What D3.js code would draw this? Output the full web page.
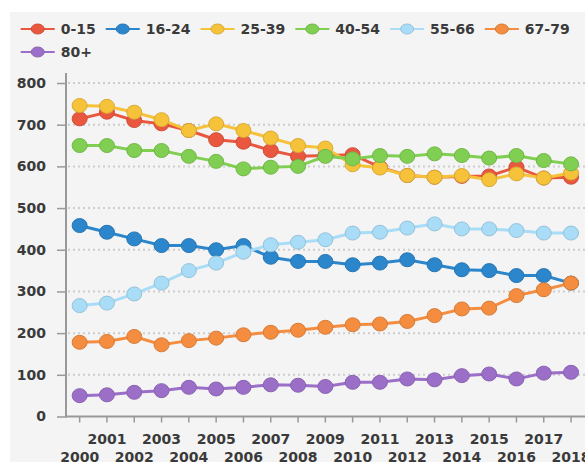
<!DOCTYPE html>
<html>
<head>
<meta charset="utf-8">
<script src="https://cdn.jsdelivr.net/npm/d3@7"></script>
<style>
  body { margin: 0; background: #fff; }
  text { font-family: "DejaVu Sans", Verdana, sans-serif; font-weight: bold; fill: #3a3a3a; }
</style>
</head>
<body>
<svg width="585" height="462"></svg>
<script>
var years = ["2000","2001","2002","2003","2004","2005","2006","2007","2008","2009",
             "2010","2011","2012","2013","2014","2015","2016","2017","2018"];

var groups = ["0-15", "16-24", "25-39", "40-54", "55-66", "67-79", "80+"];
var colors = ["#e9573f", "#2b86cc", "#f5c23a", "#80cf52", "#a9dcf6", "#f48d3f", "#9b6fc8"];

var age0_15  = [714, 730, 710, 702, 686, 664, 658, 638, 624, 626, 628, 598, 578, 574, 576, 577, 598, 572, 574];
var age16_24 = [458, 442, 426, 410, 410, 400, 410, 382, 372, 372, 364, 368, 376, 364, 352, 350, 338, 338, 320];
var age25_39 = [746, 744, 730, 712, 686, 702, 686, 668, 650, 644, 604, 596, 578, 574, 578, 568, 582, 572, 584];
var age40_54 = [650, 650, 638, 638, 624, 612, 594, 598, 600, 624, 618, 626, 624, 630, 626, 620, 626, 614, 606];
var age55_66 = [266, 272, 294, 320, 350, 368, 394, 412, 418, 424, 440, 442, 452, 462, 450, 450, 446, 440, 440];
var age67_79 = [178, 180, 192, 172, 182, 188, 196, 202, 207, 214, 220, 222, 228, 242, 258, 260, 290, 304, 320];
var age80    = [50, 52, 58, 62, 70, 66, 70, 76, 75, 72, 82, 82, 90, 88, 98, 102, 90, 104, 106];

var yTicks = [0, 100, 200, 300, 400, 500, 600, 700, 800];

var series = [age0_15, age16_24, age25_39, age40_54, age55_66, age67_79, age80]
  .map((vals, i) => ({ name: groups[i], color: colors[i], values: vals }));

var svg = d3.select("svg");

// grey panel
svg.append("rect")
    .attr("x", 10).attr("y", 12)
    .attr("width", 575).attr("height", 450)
    .attr("fill", "#f4f4f4");

var plotLeft = 66, plotRight = 585, plotTop = 83, plotBottom = 416.5;

var x = d3.scaleBand().domain(years).range([plotLeft, plotLeft + 19 * 27.3]);
var y = d3.scaleLinear().domain([0, 800]).range([plotBottom, plotTop]);
var cx = d => x(d) + x.bandwidth() / 2;

// dotted gridlines
svg.append("g")
  .selectAll("line")
  .data(yTicks.filter(d => d > 0))
  .enter().append("line")
    .attr("x1", plotLeft + 2).attr("x2", plotRight)
    .attr("y1", d => y(d)).attr("y2", d => y(d))
    .attr("stroke", "#cdcdcd")
    .attr("stroke-width", 2)
    .attr("stroke-dasharray", "2,3");

// y axis
var yAxis = svg.append("g")
    .attr("transform", "translate(" + plotLeft + ",0)")
    .call(d3.axisLeft(y).tickValues(yTicks).tickSize(9).tickPadding(11));
yAxis.select(".domain").remove();
yAxis.selectAll(".tick line").attr("stroke", "#999").attr("stroke-width", 1.5);
yAxis.selectAll(".tick text")
    .style("font-size", "14px")
    .style("font-family", "'DejaVu Sans', Verdana, sans-serif")
    .attr("fill", "#3a3a3a");
svg.append("line")
    .attr("x1", plotLeft).attr("x2", plotLeft)
    .attr("y1", 73).attr("y2", plotBottom + 1)
    .attr("stroke", "#999").attr("stroke-width", 2);

// x axis, labels staggered on two rows
var xAxis = svg.append("g")
    .attr("transform", "translate(0," + plotBottom + ")")
    .call(d3.axisBottom(x).tickSize(6).tickPadding(0));
xAxis.select(".domain").remove();
xAxis.selectAll(".tick line").attr("stroke", "#999").attr("stroke-width", 1.5);
xAxis.selectAll(".tick text")
    .style("font-size", "14px")
    .style("font-family", "'DejaVu Sans', Verdana, sans-serif")
    .attr("fill", "#3a3a3a")
    .attr("dy", null)
    .attr("y", (d, i) => i % 2 ? 22 : 40)
    .attr("dominant-baseline", "central");
svg.append("line")
    .attr("x1", plotLeft).attr("x2", plotRight)
    .attr("y1", plotBottom).attr("y2", plotBottom)
    .attr("stroke", "#999").attr("stroke-width", 2);

// lines + points
var line = d3.line()
    .x((d, i) => cx(years[i]))
    .y(d => y(d));

var serie = svg.selectAll(".serie")
  .data(series)
  .enter().append("g")
    .attr("class", "serie");

serie.append("path")
    .attr("d", d => line(d.values))
    .attr("fill", "none")
    .attr("stroke", d => d.color)
    .attr("stroke-width", 3);

serie.each(function(s) {
  d3.select(this).selectAll("ellipse")
    .data(s.values)
    .enter().append("ellipse")
      .attr("cx", (d, i) => cx(years[i]))
      .attr("cy", d => y(d))
      .attr("rx", 7.5)
      .attr("ry", 7)
      .attr("fill", s.color)
      .attr("stroke", d3.color(s.color).darker(0.35))
      .attr("stroke-width", 1);
});

// legend
var legend = svg.append("g");
var lx = 20.7, ly = 29;
series.forEach(function(s) {
  var item = legend.append("g");
  item.append("line")
      .attr("x1", 0).attr("x2", 34)
      .attr("stroke", s.color).attr("stroke-width", 2);
  item.append("ellipse")
      .attr("cx", 17).attr("rx", 6.5).attr("ry", 5)
      .attr("fill", s.color)
      .attr("stroke", d3.color(s.color).darker(0.35));
  var t = item.append("text")
      .attr("x", 40).attr("dy", "0.36em")
      .style("font-size", "14px")
      .text(s.name);
  var tw = t.node().getComputedTextLength();
  if (lx + 40 + tw > 586) { lx = 20.7; ly += 23; }
  item.attr("transform", "translate(" + lx + "," + ly + ")");
  lx += 40 + tw + 10;
});
</script>
</body>
</html>
